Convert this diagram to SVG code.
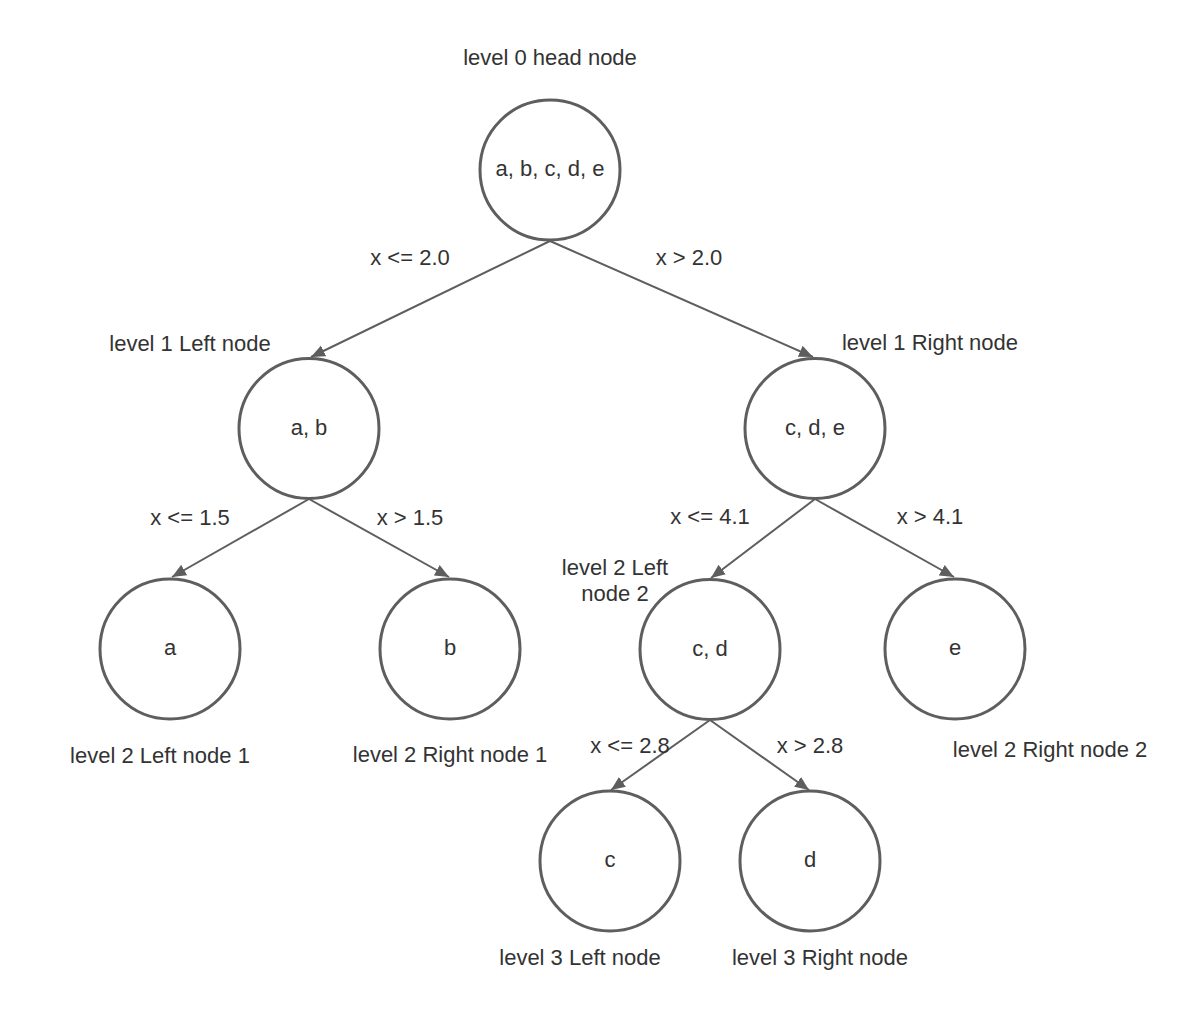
<svg xmlns="http://www.w3.org/2000/svg" width="1200" height="1020" viewBox="0 0 1200 1020">
<defs>
<style>
.n{fill:#ffffff;stroke:#5e5e5e;stroke-width:3}
.e{fill:none;stroke:#5e5e5e;stroke-width:2}
text{font-family:"Liberation Sans",Arial,sans-serif;font-size:22px;fill:#333333;text-anchor:middle}
</style>
<marker id="arr" markerUnits="userSpaceOnUse" markerWidth="16" markerHeight="14" refX="14" refY="6" orient="auto" viewBox="0 0 16 12">
<path d="M0,0 L14,6 L0,12 Z" fill="#5e5e5e"/>
</marker>
</defs>
<rect width="1200" height="1020" fill="#ffffff"/>
<g id="connectors">
<path class="e" d="M550,241 L311,357" marker-end="url(#arr)"/>
<path class="e" d="M550,241 L813,357" marker-end="url(#arr)"/>
<path class="e" d="M309,499 L172,577" marker-end="url(#arr)"/>
<path class="e" d="M309,499 L449,577" marker-end="url(#arr)"/>
<path class="e" d="M815,499 L711,578" marker-end="url(#arr)"/>
<path class="e" d="M815,499 L954,577" marker-end="url(#arr)"/>
<path class="e" d="M710,720 L611,790" marker-end="url(#arr)"/>
<path class="e" d="M710,720 L809,790" marker-end="url(#arr)"/>
<text x="410" y="265">x &lt;= 2.0</text>
<text x="689" y="265">x &gt; 2.0</text>
<text x="190" y="525">x &lt;= 1.5</text>
<text x="410" y="525">x &gt; 1.5</text>
<text x="710" y="524">x &lt;= 4.1</text>
<text x="930" y="524">x &gt; 4.1</text>
<text x="630" y="753">x &lt;= 2.8</text>
<text x="810" y="753">x &gt; 2.8</text>
</g>
<g id="head">
<text x="550" y="65">level 0 head node</text>
<circle class="n" cx="550" cy="170" r="70"/>
<text x="550" y="176">a, b, c, d, e</text>
</g>
<g id="l1-left">
<text x="190" y="351">level 1 Left node</text>
<circle class="n" cx="309" cy="428.5" r="70"/>
<text x="309" y="435">a, b</text>
</g>
<g id="l1-right">
<text x="930" y="350">level 1 Right node</text>
<circle class="n" cx="815" cy="428.5" r="70"/>
<text x="815" y="435">c, d, e</text>
</g>
<g id="l2-left1">
<circle class="n" cx="170" cy="649" r="70"/>
<text x="170" y="655">a</text>
<text x="160" y="763">level 2 Left node 1</text>
</g>
<g id="l2-right1">
<circle class="n" cx="450" cy="649" r="70"/>
<text x="450" y="655">b</text>
<text x="450" y="762">level 2 Right node 1</text>
</g>
<g id="l2-left2">
<text x="615" y="575">level 2 Left</text>
<text x="615" y="601">node 2</text>
<circle class="n" cx="710" cy="649.5" r="70"/>
<text x="710" y="656">c, d</text>
</g>
<g id="l2-right2">
<circle class="n" cx="955" cy="649" r="70"/>
<text x="955" y="655">e</text>
<text x="1050" y="757">level 2 Right node 2</text>
</g>
<g id="l3-left">
<circle class="n" cx="610" cy="861" r="70"/>
<text x="610" y="867">c</text>
<text x="580" y="965">level 3 Left node</text>
</g>
<g id="l3-right">
<circle class="n" cx="810" cy="861" r="70"/>
<text x="810" y="867">d</text>
<text x="820" y="965">level 3 Right node</text>
</g>
</svg>
